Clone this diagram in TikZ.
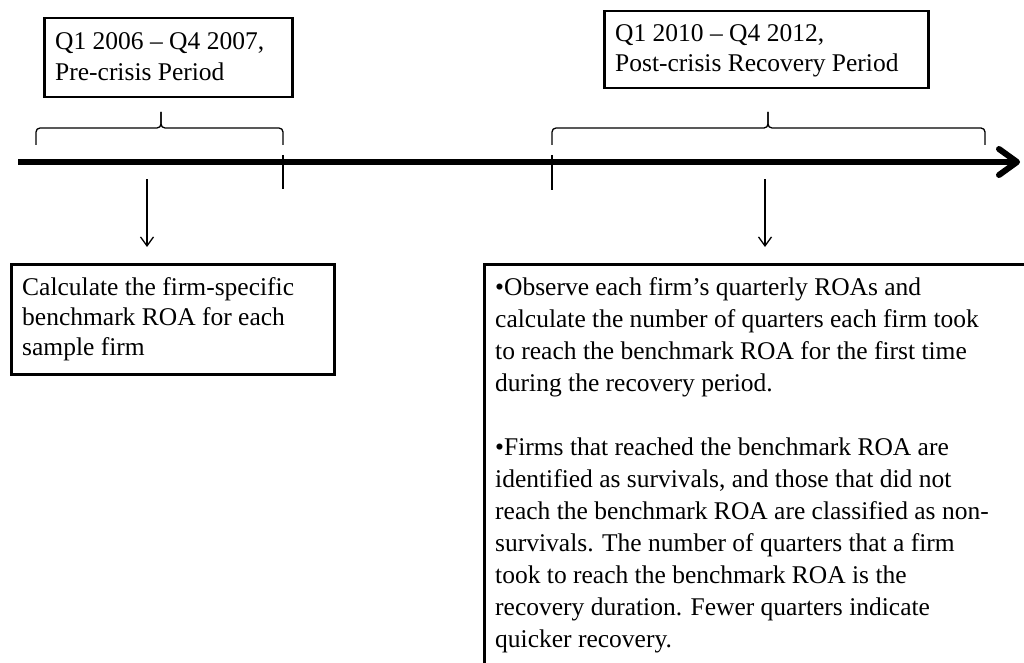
\documentclass[tikz,border=0pt]{standalone}
\usepackage{fontspec}
\setmainfont{Liberation Serif}
\usetikzlibrary{arrows.meta}
\begin{document}
\begin{tikzpicture}[x=1pt,y=1pt,
  box/.style={draw=black, line width=2.5pt, rectangle, inner sep=0pt, anchor=north west},
  txt/.style={inner sep=0pt, anchor=base west, align=left, text=black},
  bracepath/.style={draw=black, line width=1.3pt, rounded corners=4pt},
  tickline/.style={draw=black, line width=1.3pt},
  downarrow/.style={draw=black, line width=1.3pt, -{Straight Barb[length=9pt,width=13pt]}},
  axisline/.style={draw=black, line width=6pt, -{Straight Barb[length=18pt,width=26pt,round]}}
]
\useasboundingbox (0,0) rectangle (1024,-663);
\clip (0,0) rectangle (1024,-663);
\fill[white] (0,0) rectangle (1024,-663);

% boxes
\node[box, minimum width=248pt, minimum height=79pt] (b1) at (43,-17) {};
\node[box, minimum width=324pt, minimum height=77pt] (b2) at (603,-10) {};
\node[box, minimum width=323pt, minimum height=110pt] (b3) at (10,-263) {};
\node[box, minimum width=600pt, minimum height=450pt] (b4) at (483,-263) {};

% texts (base anchor = baseline of the last line)
\node[txt, font=\fontsize{25.5}{31}\selectfont] (t1) at (55,-81)
  {Q1 2006 – Q4 2007,\\Pre-crisis Period};
\node[txt, font=\fontsize{25.5}{30}\selectfont] (t2) at (615,-72)
  {Q1 2010 – Q4 2012,\\Post-crisis Recovery Period};
\node[txt, font=\fontsize{25.5}{30}\selectfont] (t3) at (22,-355)
  {Calculate the firm-specific\\benchmark ROA for each\\sample firm};
\node[txt, font=\fontsize{25.5}{32}\selectfont] (t4) at (495,-647)
  {•Observe each firm’s quarterly ROAs and\\
   calculate the number of quarters each firm took\\
   to reach the benchmark ROA for the first time\\
   during the recovery period.\\[32pt]
   •Firms that reached the benchmark ROA are\\
   identified as survivals, and those that did not\\
   reach the benchmark ROA are classified as non-\\
   survivals. The number of quarters that a firm\\
   took to reach the benchmark ROA is the\\
   recovery duration. Fewer quarters indicate\\
   quicker recovery.};

% axis
\coordinate (axs) at (18,-162);
\coordinate (axe) at (1020,-162);
\draw[axisline] (axs) -- (axe);

% ticks
\coordinate (k1a) at (283,-155); \coordinate (k1b) at (283,-189);
\coordinate (k2a) at (552,-155); \coordinate (k2b) at (552,-190);
\draw[tickline] (k1a) -- (k1b);
\draw[tickline] (k2a) -- (k2b);

% braces
\coordinate (br1l) at (36,-145); \coordinate (br1t) at (161,-112); \coordinate (br1r) at (283,-145);
\draw[bracepath] (br1l) -- (36,-128) -- (161,-128) -- (br1t);
\draw[bracepath] (br1t) -- (161,-128) -- (283,-128) -- (br1r);
\coordinate (br2l) at (552,-145); \coordinate (br2t) at (768,-112); \coordinate (br2r) at (985,-145);
\draw[bracepath] (br2l) -- (552,-128) -- (768,-128) -- (br2t);
\draw[bracepath] (br2t) -- (768,-128) -- (985,-128) -- (br2r);

% down arrows
\coordinate (a1s) at (147,-179); \coordinate (a1e) at (147,-247);
\coordinate (a2s) at (765,-179); \coordinate (a2e) at (765,-247);
\draw[downarrow] (a1s) -- (a1e);
\draw[downarrow] (a2s) -- (a2e);
\end{tikzpicture}
\end{document}
